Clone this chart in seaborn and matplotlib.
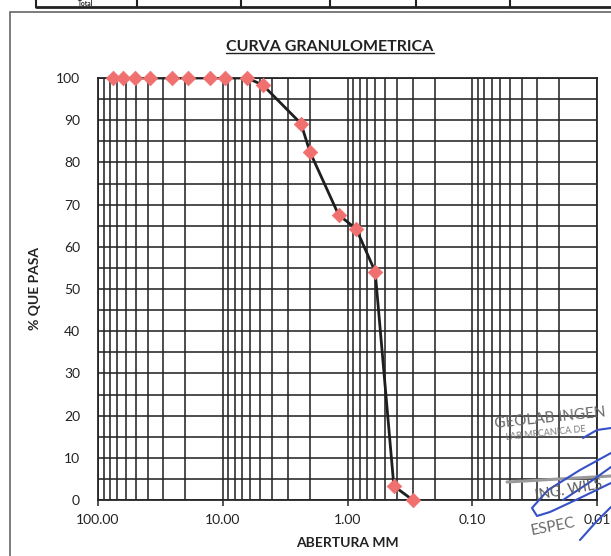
import numpy as np
import pandas as pd
import matplotlib
matplotlib.use("Agg")
import matplotlib.pyplot as plt
from matplotlib.lines import Line2D
from matplotlib.patches import Rectangle
from matplotlib.ticker import LogLocator, FixedLocator, NullFormatter, MultipleLocator
import seaborn as sns

# ---- data ----
abertura_mm = [76.2, 63.5, 50.8, 38.1, 25.4, 19.05, 12.7, 9.525, 6.35, 4.76,
               2.36, 2.0, 1.18, 0.85, 0.6, 0.425, 0.3]
pct_pasa = [100, 100, 100, 100, 100, 100, 100, 100, 100, 98.3,
            89.2, 82.5, 67.6, 64.2, 54.1, 3.3, 0.0]
x_major = [100, 10, 1, 0.1, 0.01]
x_major_labels = ["100.00", "10.00", "1.00", "0.10", "0.01"]
y_ticks = list(range(0, 101, 10))

title = "CURVA GRANULOMETRICA"
xlabel = "ABERTURA MM"
ylabel = "% QUE PASA"

df = pd.DataFrame({"abertura": abertura_mm, "pasa": pct_pasa})

sns.set_theme(style="white")
plt.rcParams["font.family"] = ["Lato", "DejaVu Sans"]

W, H = 611, 556
fig = plt.figure(figsize=(W / 100, H / 100), dpi=100)
fig.patch.set_facecolor("white")

def fx(px):
    return px / W

def fy(py):
    return 1 - py / H

ax = fig.add_axes([fx(98), fy(500), fx(597) - fx(98), fy(78) - fy(500)])

sns.lineplot(data=df, x="abertura", y="pasa", ax=ax, sort=False,
             color="#1e1e1e", linewidth=2.0, zorder=4)
sns.scatterplot(data=df, x="abertura", y="pasa", ax=ax, marker="D",
                s=55, color="#f07070", edgecolor="#f07070", linewidth=0.5,
                zorder=5, clip_on=False)

ax.set_xscale("log")
ax.set_xlim(100, 0.01)
ax.set_ylim(0, 100)

ax.xaxis.set_major_locator(FixedLocator(x_major))
ax.set_xticklabels(x_major_labels)
ax.xaxis.set_minor_locator(LogLocator(base=10, subs=np.arange(2, 10)))
ax.xaxis.set_minor_formatter(NullFormatter())
ax.set_yticks(y_ticks)
ax.set_yticklabels([str(v) for v in y_ticks])
ax.yaxis.set_minor_locator(MultipleLocator(5))

ax.grid(True, which="both", axis="both", color="#252525", linewidth=1.15)
ax.set_axisbelow(True)
for sp in ax.spines.values():
    sp.set_visible(True)
    sp.set_color("#252525")
    sp.set_linewidth(1.3)

ax.tick_params(axis="x", which="major", length=4, width=1.1, color="#252525",
               pad=6, labelsize=10, labelcolor="#222222", direction="out", bottom=True)
ax.tick_params(axis="x", which="minor", length=0)
ax.tick_params(axis="y", which="both", length=0, pad=13, labelsize=10,
               labelcolor="#222222")

ax.set_xlabel(xlabel, fontsize=10, fontweight="bold", color="#222222", labelpad=8)
ax.set_ylabel(ylabel, fontsize=10, fontweight="bold", color="#222222", labelpad=11)

# title with underline
t = fig.text(fx(330), fy(47), title, ha="center", va="center",
             fontsize=11.5, fontweight="bold", color="#222222")
fig.canvas.draw()
bb = t.get_window_extent().transformed(fig.transFigure.inverted())
fig.add_artist(Line2D([bb.x0, bb.x1], [bb.y0 + 0.002, bb.y0 + 0.002],
                      transform=fig.transFigure, color="#222222", linewidth=1.0))

# outer frame of the document
fig.add_artist(Rectangle((fx(10), -0.05), 1.0, fy(12) + 0.05,
                         transform=fig.transFigure, fill=False,
                         edgecolor="#666666", linewidth=1.2))

# remnant of table at top
fig.add_artist(Line2D([fx(36), 1.0], [fy(7), fy(7)], transform=fig.transFigure,
                      color="#222222", linewidth=2.0))
for px in [36, 137, 241, 330, 416, 510]:
    fig.add_artist(Line2D([fx(px), fx(px)], [fy(7), 1.0], transform=fig.transFigure,
                          color="#222222", linewidth=1.5))
fig.text(fx(86), fy(5.6), "Total", ha="center", va="baseline", fontsize=4.8,
         fontweight="bold", color="#222222")

# stamp
stamp_font = ["Liberation Sans Narrow", "Lato", "DejaVu Sans"]
fig.text(fx(494), fy(428), "GEOLAB INGEN", rotation=6, fontsize=11,
         color="#6a6a6a", ha="left", va="baseline", family=stamp_font)
fig.text(fx(505), fy(440), "LAB MECANICA DE", rotation=6, fontsize=6.5,
         color="#7a7a7a", ha="left", va="baseline", family=stamp_font)
fig.add_artist(Line2D([fx(507), 1.0], [fy(482), fy(476)], transform=fig.transFigure,
                      color="#9a9a9a", linewidth=2.2))
fig.text(fx(534), fy(500), "ING. WILS", rotation=10, fontsize=10.5,
         color="#5a5a5a", ha="left", va="baseline", family=stamp_font)
fig.text(fx(530), fy(535), "ESPEC", rotation=11, fontsize=11,
         color="#6a6a6a", ha="left", va="baseline", family=stamp_font)
sig = [([583, 597, 611], [438, 430, 428]),
       ([611, 580, 548, 532, 537, 550, 580, 611], [453, 470, 490, 508, 516, 512, 498, 483]),
       ([563, 590, 611], [500, 482, 467]),
       ([580, 596, 611], [540, 522, 507])]
for xs, ys in sig:
    fig.add_artist(Line2D([fx(v) for v in xs], [fy(v) for v in ys],
                          transform=fig.transFigure, color="#3650c8", linewidth=1.5,
                          solid_joinstyle="round", solid_capstyle="round"))

fig.savefig("out.png", dpi=100)
